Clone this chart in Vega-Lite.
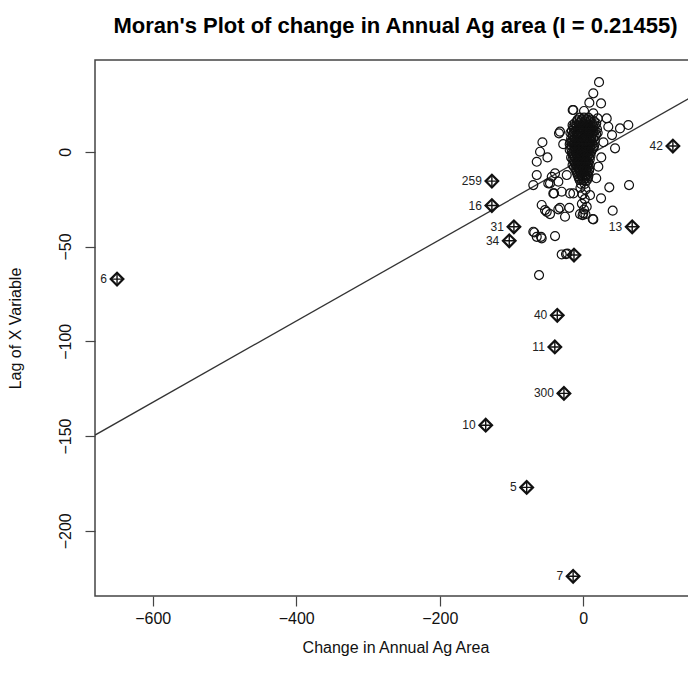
{
  "$schema": "https://vega.github.io/schema/vega-lite/v6.json",
  "width": 601,
  "height": 536,
  "autosize": {"type": "none"},
  "padding": {"left": 95, "top": 60, "right": 0, "bottom": 95},
  "background": "white",
  "config": {
    "view": {"stroke": "#444", "strokeWidth": 1.5},
    "font": "Liberation Sans",
    "axis": {"grid": false, "domain": false, "tickColor": "#444", "tickSize": 10, "tickWidth": 1.2, "labelColor": "#111", "titleColor": "#111", "labelFontSize": 16, "titleFontSize": 16, "titleFontWeight": "normal", "labelFont": "Liberation Sans", "titleFont": "Liberation Sans"}
  },
  "title": {"text": "Moran's Plot of change in Annual Ag area (I = 0.21455)", "fontSize": 22, "fontWeight": "bold", "color": "#000", "anchor": "middle", "frame": "group", "baseline": "bottom", "offset": 0, "font": "Liberation Sans"},
  "datasets": {
    "pts": [
      {"x": 21.9, "y": 36.7}, {"x": 13.9, "y": 30.8}, {"x": 8.4, "y": 25.9}, {"x": 24.7, "y": 25.5}, {"x": -14.8, "y": 22.0}, {"x": 1, "y": 21.5}, {"x": 13.9, "y": 20.3}, {"x": 20, "y": 17.6}, {"x": 32.6, "y": 17.6}, {"x": 34.8, "y": 13.2}, {"x": 51.1, "y": 12.3}, {"x": 62.7, "y": 14.1}, {"x": -33.9, "y": 9.7}, {"x": 40, "y": 8.8}, {"x": 44.2, "y": 1.8}, {"x": -60.3, "y": 0}, {"x": -64.9, "y": -5.3}, {"x": -64.9, "y": -12.3}, {"x": -44, "y": -13.2}, {"x": -69.7, "y": -17.6}, {"x": -46.4, "y": -16.7}, {"x": -34.8, "y": -15.8}, {"x": -23.1, "y": -12.3}, {"x": -30.1, "y": -21.1}, {"x": -18.5, "y": -22}, {"x": -40.8, "y": -22}, {"x": 20.9, "y": -7.9}, {"x": 36.2, "y": -18.8}, {"x": 63.7, "y": -17.6}, {"x": 24.7, "y": -24.6}, {"x": 40.9, "y": -31.1}, {"x": 13.9, "y": -35.7}, {"x": -58, "y": -28.1}, {"x": -53.4, "y": -30.8}, {"x": -46.4, "y": -32.9}, {"x": -32.5, "y": -29.6}, {"x": -19.5, "y": -29.6}, {"x": -25.5, "y": -34.3}, {"x": -4.6, "y": -32.9}, {"x": -68.3, "y": -42.6}, {"x": -58.9, "y": -44.9}, {"x": -39.4, "y": -44.5}, {"x": -30.1, "y": -54.2}, {"x": -22.3, "y": -53.7}, {"x": 9.3, "y": -22.9}, {"x": 4.7, "y": -29}, {"x": 0, "y": -32.5}, {"x": -61.7, "y": -65.1}, {"x": -39.4, "y": -11.4}, {"x": -48.8, "y": -16.7}, {"x": -41.8, "y": -22}, {"x": -51, "y": -31.7}, {"x": -34.8, "y": -30.4}, {"x": -13.9, "y": -22}, {"x": 13.1, "y": -35.5}, {"x": -69.7, "y": -42.2}, {"x": -64.9, "y": -44.9}, {"x": -58, "y": -45.7}, {"x": -24.1, "y": -54}, {"x": -32.5, "y": 10.6}, {"x": -13.9, "y": 22}, {"x": -57, "y": 5}, {"x": -50, "y": -3}, {"x": -28, "y": 4}, {"x": 28, "y": 5}, {"x": 25, "y": -3}, {"x": 18, "y": -14},
      {"x": -8, "y": 17}, {"x": -2, "y": 17}, {"x": 4, "y": 17}, {"x": 10, "y": 17},
      {"x": -12, "y": 15}, {"x": -6, "y": 15}, {"x": 0, "y": 15}, {"x": 6, "y": 15}, {"x": 12, "y": 15}, {"x": 18, "y": 15},
      {"x": -14, "y": 13}, {"x": -9, "y": 13}, {"x": -3, "y": 13}, {"x": 3, "y": 13}, {"x": 8, "y": 13}, {"x": 14, "y": 13},
      {"x": -16, "y": 11}, {"x": -11, "y": 11}, {"x": -5, "y": 11}, {"x": 1, "y": 11}, {"x": 6, "y": 11}, {"x": 11, "y": 11}, {"x": 16, "y": 11},
      {"x": -15, "y": 9}, {"x": -9, "y": 9}, {"x": -4, "y": 9}, {"x": 2, "y": 9}, {"x": 7, "y": 9}, {"x": 12, "y": 9}, {"x": 18, "y": 9},
      {"x": -17, "y": 7}, {"x": -12, "y": 7}, {"x": -6, "y": 7}, {"x": -1, "y": 7}, {"x": 4, "y": 7}, {"x": 9, "y": 7}, {"x": 14, "y": 7},
      {"x": -18, "y": 5}, {"x": -13, "y": 5}, {"x": -8, "y": 5}, {"x": -3, "y": 5}, {"x": 2, "y": 5}, {"x": 7, "y": 5}, {"x": 12, "y": 5},
      {"x": -16, "y": 3}, {"x": -10, "y": 3}, {"x": -5, "y": 3}, {"x": 0, "y": 3}, {"x": 5, "y": 3}, {"x": 10, "y": 3}, {"x": 15, "y": 3},
      {"x": -19, "y": 1}, {"x": -13, "y": 1}, {"x": -8, "y": 1}, {"x": -3, "y": 1}, {"x": 2, "y": 1}, {"x": 7, "y": 1}, {"x": 12, "y": 1},
      {"x": -15, "y": -1}, {"x": -10, "y": -1}, {"x": -5, "y": -1}, {"x": 0, "y": -1}, {"x": 4, "y": -1}, {"x": 9, "y": -1},
      {"x": -17, "y": -3}, {"x": -12, "y": -3}, {"x": -7, "y": -3}, {"x": -2, "y": -3}, {"x": 3, "y": -3}, {"x": 8, "y": -3},
      {"x": -13, "y": -5}, {"x": -8, "y": -5}, {"x": -3, "y": -5}, {"x": 2, "y": -5}, {"x": 6, "y": -5},
      {"x": -15, "y": -7}, {"x": -10, "y": -7}, {"x": -5, "y": -7}, {"x": 0, "y": -7}, {"x": 5, "y": -7}, {"x": 9, "y": -7},
      {"x": -11, "y": -9}, {"x": -6, "y": -9}, {"x": -1, "y": -9}, {"x": 4, "y": -9}, {"x": 8, "y": -9},
      {"x": -9, "y": -11}, {"x": -4, "y": -11}, {"x": 1, "y": -11}, {"x": 6, "y": -11},
      {"x": -7, "y": -13}, {"x": -2, "y": -13}, {"x": 3, "y": -13}, {"x": 7, "y": -13},
      {"x": -5, "y": -15}, {"x": 0, "y": -15}, {"x": 5, "y": -15},
      {"x": -3, "y": -17}, {"x": 2, "y": -17},
      {"x": -4, "y": -19}, {"x": 3, "y": -20},
      {"x": -1, "y": -22.5},
      {"x": 2, "y": -25},
      {"x": -2, "y": -27.5},
      {"x": 1, "y": -30.5},
      {"x": -1, "y": -33.5}, {"x": 3, "y": -33},
      {"x": -5, "y": 18}, {"x": 1, "y": 18}, {"x": 7, "y": 18},
      {"x": -9, "y": 16}, {"x": -3, "y": 16}, {"x": 3, "y": 16}, {"x": 9, "y": 16}, {"x": 15, "y": 16},
      {"x": -15, "y": 14}, {"x": -10, "y": 14}, {"x": -6, "y": 14}, {"x": 0.5, "y": 14}, {"x": 5.5, "y": 14}, {"x": 10, "y": 14}, {"x": 16, "y": 14},
      {"x": -13, "y": 12}, {"x": -8, "y": 12}, {"x": -2, "y": 12}, {"x": 4, "y": 12}, {"x": 9, "y": 12}, {"x": 13, "y": 12}, {"x": 19, "y": 12},
      {"x": -18, "y": 10}, {"x": -13, "y": 10}, {"x": -7, "y": 10}, {"x": -1, "y": 10}, {"x": 4, "y": 10}, {"x": 9, "y": 10}, {"x": 14, "y": 10}, {"x": 20, "y": 10},
      {"x": -14, "y": 8}, {"x": -9, "y": 8}, {"x": -3, "y": 8}, {"x": 1, "y": 8}, {"x": 6, "y": 8}, {"x": 11, "y": 8}, {"x": 16, "y": 8},
      {"x": -15, "y": 6}, {"x": -10, "y": 6}, {"x": -5, "y": 6}, {"x": 0, "y": 6}, {"x": 5, "y": 6}, {"x": 10, "y": 6}, {"x": 16, "y": 6},
      {"x": -19, "y": 4}, {"x": -13, "y": 4}, {"x": -7, "y": 4}, {"x": -2, "y": 4}, {"x": 3, "y": 4}, {"x": 8, "y": 4}, {"x": 13, "y": 4},
      {"x": -17, "y": 2}, {"x": -11, "y": 2}, {"x": -6, "y": 2}, {"x": -1, "y": 2}, {"x": 4, "y": 2}, {"x": 9, "y": 2}, {"x": 14, "y": 2},
      {"x": -16, "y": 0}, {"x": -11, "y": 0}, {"x": -6, "y": 0}, {"x": -2, "y": 0}, {"x": 2, "y": 0}, {"x": 6, "y": 0}, {"x": 11, "y": 0},
      {"x": -14, "y": -2}, {"x": -9, "y": -2}, {"x": -4, "y": -2}, {"x": 1, "y": -2}, {"x": 6, "y": -2}, {"x": 10, "y": -2},
      {"x": -15, "y": -4}, {"x": -10, "y": -4}, {"x": -5, "y": -4}, {"x": 0, "y": -4}, {"x": 4, "y": -4}, {"x": 9, "y": -4},
      {"x": -12, "y": -6}, {"x": -7, "y": -6}, {"x": -2, "y": -6}, {"x": 3, "y": -6}, {"x": 7, "y": -6},
      {"x": -13, "y": -8}, {"x": -8, "y": -8}, {"x": -3, "y": -8}, {"x": 2, "y": -8}, {"x": 6, "y": -8},
      {"x": -10, "y": -10}, {"x": -5, "y": -10}, {"x": 0, "y": -10}, {"x": 4, "y": -10}, {"x": 8, "y": -10},
      {"x": -8, "y": -12}, {"x": -3, "y": -12}, {"x": 2, "y": -12}, {"x": 5, "y": -12},
      {"x": -6, "y": -14}, {"x": -1, "y": -14}, {"x": 3, "y": -14}, {"x": 6, "y": -14}
    ],
    "infl": [
      {"x": -649.7, "y": -67.2, "label": "6"},
      {"x": 124.8, "y": 3.0, "label": "42"},
      {"x": -127.4, "y": -15.5, "label": "259"},
      {"x": -127.4, "y": -28.4, "label": "16"},
      {"x": -96.7, "y": -39.6, "label": "31"},
      {"x": -103.2, "y": -47.0, "label": "34"},
      {"x": 68.1, "y": -39.6, "label": "13"},
      {"x": -36.3, "y": -86.3, "label": "40"},
      {"x": -39.7, "y": -103.0, "label": "11"},
      {"x": -27.0, "y": -127.5, "label": "300"},
      {"x": -136.0, "y": -144.3, "label": "10"},
      {"x": -78.9, "y": -177.1, "label": "5"},
      {"x": -14.2, "y": -224.0, "label": "7"},
      {"x": -13.0, "y": -54.5, "label": ""}
    ],
    "fit": [
      {"x": -680.4, "y": -149.5},
      {"x": 157, "y": 30.2}
    ]
  },
  "layer": [
    {
      "data": {"name": "fit"},
      "mark": {"type": "line", "color": "#333", "strokeWidth": 1.3, "clip": true},
      "encoding": {
        "x": {"field": "x", "type": "quantitative", "scale": {"domain": [-680.4, 157], "nice": false, "zero": false}, "axis": {"values": [-600, -400, -200, 0], "title": "Change in Annual Ag Area", "labelPadding": 4, "titlePadding": 13}},
        "y": {"field": "y", "type": "quantitative", "scale": {"domain": [-234.4, 48.4], "nice": false, "zero": false}, "axis": {"values": [-200, -150, -100, -50, 0], "title": "Lag of X Variable", "labelAngle": 270, "labelAlign": "center", "labelBaseline": "bottom", "labelPadding": 12, "titlePadding": 34}}
      }
    },
    {
      "mark": {"type": "rule", "color": "#444", "strokeWidth": 1.1, "strokeDash": [5, 4]},
      "encoding": {"y": {"datum": -5.3, "type": "quantitative"}}
    },
    {
      "mark": {"type": "rule", "color": "#444", "strokeWidth": 1.1, "strokeDash": [5, 4]},
      "encoding": {"x": {"datum": -5.5, "type": "quantitative"}}
    },
    {
      "data": {"name": "pts"},
      "mark": {"type": "point", "shape": "circle", "filled": false, "stroke": "#111", "strokeWidth": 1.2, "size": 80, "opacity": 1},
      "encoding": {
        "x": {"field": "x", "type": "quantitative"},
        "y": {"field": "y", "type": "quantitative"}
      }
    },
    {
      "data": {"name": "infl"},
      "mark": {"type": "point", "shape": "diamond", "filled": false, "stroke": "#111", "strokeWidth": 2.2, "size": 160, "opacity": 1},
      "encoding": {
        "x": {"field": "x", "type": "quantitative"},
        "y": {"field": "y", "type": "quantitative"}
      }
    },
    {
      "data": {"name": "infl"},
      "mark": {"type": "point", "shape": "M -1 0 L 1 0 M 0 -1 L 0 1", "filled": false, "stroke": "#111", "strokeWidth": 1.4, "size": 160, "opacity": 1},
      "encoding": {
        "x": {"field": "x", "type": "quantitative"},
        "y": {"field": "y", "type": "quantitative"}
      }
    },
    {
      "data": {"name": "infl"},
      "mark": {"type": "text", "align": "right", "baseline": "middle", "dx": -10, "fontSize": 12, "color": "#222", "font": "Liberation Sans"},
      "encoding": {
        "x": {"field": "x", "type": "quantitative"},
        "y": {"field": "y", "type": "quantitative"},
        "text": {"field": "label"}
      }
    }
  ]
}
